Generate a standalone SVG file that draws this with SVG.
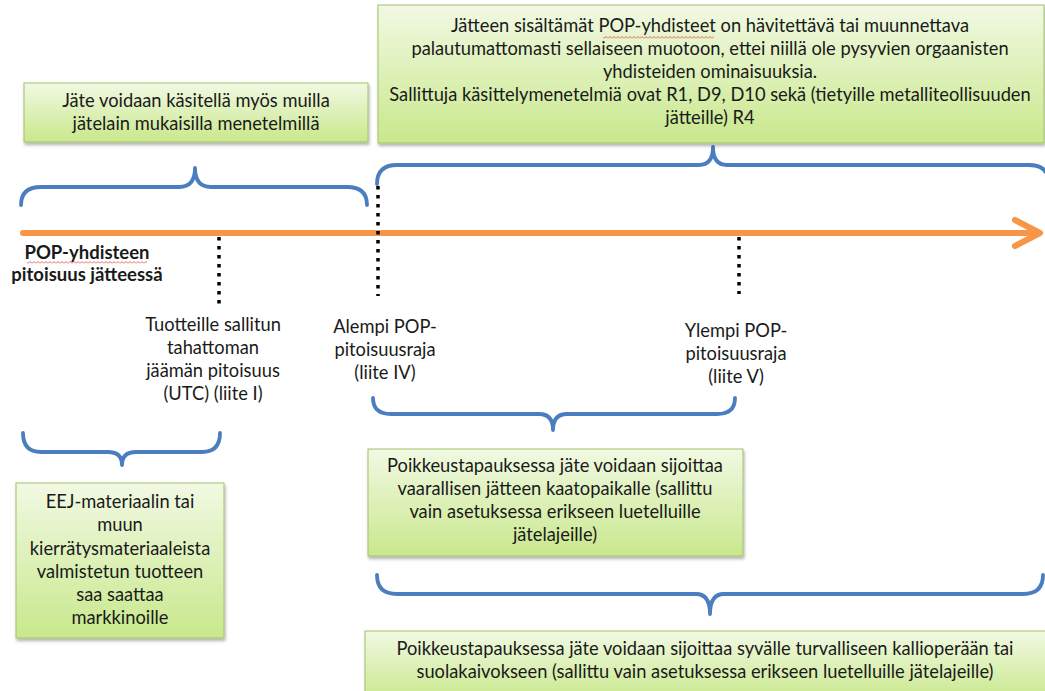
<svg xmlns="http://www.w3.org/2000/svg" width="1045" height="691" viewBox="0 0 1045 691">
  <style>
    .t { font-family: Lato, "Open Sans", "Liberation Sans", sans-serif; font-size: 18.3px; fill: #1a1a1a; text-anchor: middle; }
    .b { font-weight: bold; font-size: 18.5px; }
    .box { fill: url(#g); stroke: #a2c267; stroke-width: 1; filter: url(#sh); }
    .brace { fill: none; stroke: #4a7ec0; stroke-width: 3.8; stroke-linecap: round; stroke-linejoin: round; }
    .dot { stroke: #000; stroke-width: 3.5; stroke-dasharray: 3.5 5.5; fill: none; }
    .axis { stroke: #f79646; stroke-width: 6; fill: none; stroke-linecap: round; stroke-linejoin: round; }
  </style>
  <defs>
    <linearGradient id="g" x1="0" y1="0" x2="0" y2="1">
      <stop offset="0" stop-color="#f1f9e3"/>
      <stop offset="1" stop-color="#c9e88c"/>
    </linearGradient>
    <filter id="sh" x="-5%" y="-10%" width="115%" height="130%">
      <feDropShadow dx="1" dy="2.5" stdDeviation="1.5" flood-color="#000" flood-opacity="0.3"/>
    </filter>
    <pattern id="wavy" width="4" height="3" patternUnits="userSpaceOnUse">
      <path d="M0,2.5 L2,0.5 L4,2.5" fill="none" stroke="#e03a3a" stroke-width="0.8"/>
    </pattern>
  </defs>

  <g id="connectors">
    <path class="axis" d="M23,233 L1037,233 M1015,220 L1040,233 L1015,246"/>
    <path class="dot" d="M219,237 V306"/>
    <path class="dot" d="M378,186 V296"/>
    <path class="dot" d="M739,237 V294"/>
    <path class="brace" d="M21,205 Q21,187 41,187 L179,187 Q195,187 195,168 Q195,187 211,187 L347,187 Q367,187 367,205"/>
    <path class="brace" d="M377,184 Q377,165 397,165 L699,165 Q713,165 713,147 Q713,165 727,165 L1029,165 Q1049,165 1049,184"/>
    <path class="brace" d="M373,398 Q373,414 391,414 L539,414 Q553,414 553,430 Q553,414 567,414 L717,414 Q735,414 735,398"/>
    <path class="brace" d="M23,433 Q23,452 41,452 L108,452 Q122,452 122,465 Q122,452 136,452 L202,452 Q220,452 220,433"/>
    <path class="brace" d="M377,575 Q377,594 397,594 L696,594 Q710,594 710,614 Q710,594 724,594 L1023,594 Q1043,594 1043,575"/>
  </g>

  <g id="axis-label">
    <text class="t b" x="87" y="259">POP-yhdisteen</text>
    <text class="t b" x="87" y="281">pitoisuus jätteessä</text>
    <rect x="27" y="261" width="120" height="3" fill="url(#wavy)"/>
  </g>

  <g id="box-top-left">
    <rect class="box" x="24" y="83" width="344" height="59"/>
    <text class="t" x="196" y="107">Jäte voidaan käsitellä myös muilla</text>
    <text class="t" x="196" y="130">jätelain mukaisilla menetelmillä</text>
  </g>

  <g id="box-top-right">
    <rect class="box" x="378" y="5" width="666" height="138"/>
    <text class="t" x="710" y="32">Jätteen sisältämät POP-yhdisteet on hävitettävä tai muunnettava</text>
    <text class="t" x="710" y="55">palautumattomasti sellaiseen muotoon, ettei niillä ole pysyvien orgaanisten</text>
    <text class="t" x="710" y="78">yhdisteiden ominaisuuksia.</text>
    <text class="t" x="710" y="101">Sallittuja käsittelymenetelmiä ovat R1, D9, D10 sekä (tietyille metalliteollisuuden</text>
    <text class="t" x="710" y="124">jätteille) R4</text>
    <rect x="603" y="36" width="111" height="3" fill="url(#wavy)"/>
  </g>

  <g id="label-utc">
    <text class="t" x="213" y="331">Tuotteille sallitun</text>
    <text class="t" x="213" y="354">tahattoman</text>
    <text class="t" x="213" y="377">jäämän pitoisuus</text>
    <text class="t" x="213" y="400">(UTC) (liite I)</text>
  </g>

  <g id="label-alempi">
    <text class="t" x="385" y="333">Alempi POP-</text>
    <text class="t" x="385" y="356">pitoisuusraja</text>
    <text class="t" x="385" y="379">(liite IV)</text>
  </g>

  <g id="label-ylempi">
    <text class="t" x="736" y="337">Ylempi POP-</text>
    <text class="t" x="736" y="360">pitoisuusraja</text>
    <text class="t" x="736" y="383">(liite V)</text>
  </g>

  <g id="box-eej">
    <rect class="box" x="16" y="483" width="208" height="155"/>
    <text class="t" x="120" y="508">EEJ-materiaalin tai</text>
    <text class="t" x="120" y="531">muun</text>
    <text class="t" x="120" y="555">kierrätysmateriaaleista</text>
    <text class="t" x="120" y="578">valmistetun tuotteen</text>
    <text class="t" x="120" y="601">saa saattaa</text>
    <text class="t" x="120" y="624">markkinoille</text>
  </g>

  <g id="box-landfill">
    <rect class="box" x="368" y="449" width="375" height="107"/>
    <text class="t" x="555" y="472">Poikkeustapauksessa jäte voidaan sijoittaa</text>
    <text class="t" x="555" y="495">vaarallisen jätteen kaatopaikalle (sallittu</text>
    <text class="t" x="555" y="518">vain asetuksessa erikseen luetelluille</text>
    <text class="t" x="555" y="541">jätelajeille)</text>
  </g>

  <g id="box-bedrock">
    <rect class="box" x="365" y="631" width="690" height="70"/>
    <text class="t" x="705" y="655">Poikkeustapauksessa jäte voidaan sijoittaa syvälle turvalliseen kallioperään tai</text>
    <text class="t" x="705" y="678">suolakaivokseen (sallittu vain asetuksessa erikseen luetelluille jätelajeille)</text>
  </g>
</svg>
